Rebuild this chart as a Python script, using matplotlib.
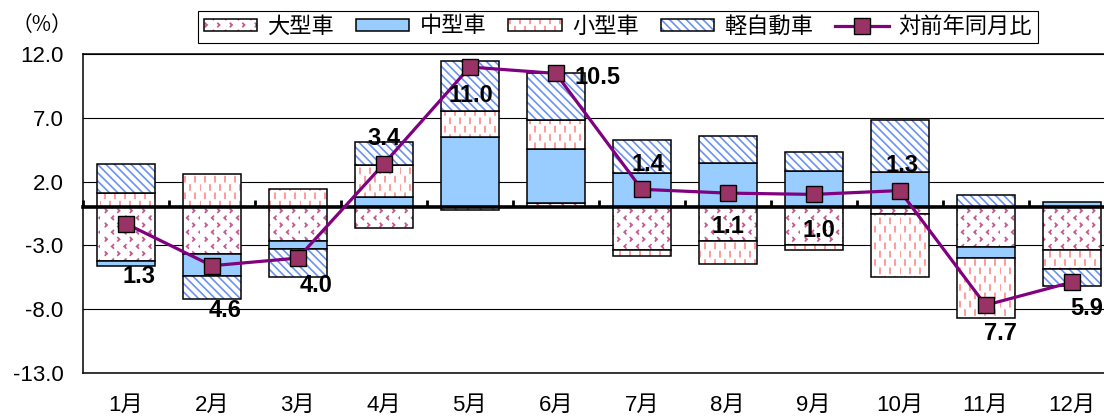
import numpy as np
import matplotlib
matplotlib.use('Agg')
import matplotlib.pyplot as plt
import matplotlib.hatch as mhatch
from matplotlib.path import Path
from matplotlib.patches import Patch
from matplotlib.lines import Line2D
from matplotlib.legend_handler import HandlerTuple

# contributions by vehicle class (percentage points) and total year-on-year change
months = ['1月', '2月', '3月', '4月', '5月', '6月', '7月', '8月', '9月', '10月', '11月', '12月']
large = [-4.25, -3.71, -2.66, -1.65, -0.20, 0.30, -3.37, -2.63, -2.98, -0.54, -3.16, -3.37]
medium = [-0.34, -1.73, -0.61, 0.81, 5.50, 4.30, 2.71, 3.45, 2.84, 2.76, -0.85, 0.38]
small = [1.13, 2.63, 1.44, 2.51, 2.06, 2.27, -0.48, -1.80, -0.39, -4.95, -4.66, -1.51]
kei = [2.24, -1.77, -2.19, 1.78, 3.88, 3.67, 2.57, 2.15, 1.51, 4.05, 0.94, -1.32]
yoy = [-1.3, -4.6, -4.0, 3.4, 11.0, 10.5, 1.4, 1.1, 1.0, 1.3, -7.7, -5.9]
series_names = ['大型車', '中型車', '小型車', '軽自動車']
line_name = '対前年同月比'
yticks = [12.0, 7.0, 2.0, -3.0, -8.0, -13.0]

# label offsets from the markers, in pixels (right, down)
label_off = [(13, 53), (13, 45), (18, 27), (0, -25), (1, 28), (42, 4),
             (6, -25), (0, 33), (5, 36), (2, -25), (15, 28), (15, 26)]


# excel-like fill patterns: short staggered dashes ('d') and small chevrons ('k')
class DashHatch(mhatch.HatchPatternBase):
    def __init__(self, hatch, density):
        n = hatch.count('d')
        self.cols = 10 * n
        self.rows = 12 * n
        self.num_vertices = self.cols * self.rows * 2

    def set_vertices_and_codes(self, vertices, codes):
        i = 0
        for r in range(self.rows):
            y = (r + 0.5) / self.rows
            for c in range(self.cols):
                xx = ((c + 0.5 + 0.5 * (r % 2)) / self.cols) % 1.0
                vertices[i] = (xx, y - 0.025)
                vertices[i + 1] = (xx, y + 0.025)
                codes[i] = Path.MOVETO
                codes[i + 1] = Path.LINETO
                i += 2


class ChevronHatch(mhatch.HatchPatternBase):
    def __init__(self, hatch, density):
        n = hatch.count('k')
        self.cols = 8 * n
        self.rows = 14 * n
        self.num_vertices = self.cols * self.rows * 3

    def set_vertices_and_codes(self, vertices, codes):
        i = 0
        for r in range(self.rows):
            y = (r + 0.5) / self.rows
            d = 1 if r % 2 == 0 else -1
            for c in range(self.cols):
                xx = (c + 0.5 + 0.5 * (r % 2)) / self.cols
                vertices[i] = (xx - d * 0.009, y + 0.017)
                vertices[i + 1] = (xx + d * 0.009, y)
                vertices[i + 2] = (xx - d * 0.009, y - 0.017)
                codes[i] = Path.MOVETO
                codes[i + 1] = Path.LINETO
                codes[i + 2] = Path.LINETO
                i += 3


mhatch._hatch_types.append(DashHatch)
mhatch._hatch_types.append(ChevronHatch)
mhatch._validate_hatch_pattern = lambda hatch: None

plt.rcParams['font.family'] = ['Liberation Sans', 'Noto Sans CJK JP']
plt.rcParams['axes.unicode_minus'] = False
plt.rcParams['hatch.linewidth'] = 1.2

fig = plt.figure(figsize=(11.04, 4.19), dpi=100)
ax = fig.add_axes([83 / 1104, 1 - 372.7 / 419, 1031.5 / 1104, 318.4 / 419])

styles = [('white', '#C45A92', 'k'),
          ('#99CCFF', None, None),
          ('white', '#FF8A8A', 'd'),
          ('white', '#6A92F2', '\\' * 4)]

x = np.arange(len(months))
w = 0.675
pos_base = np.zeros(len(months))
neg_base = np.zeros(len(months))
for vals, (fc, hc, hatch) in zip([large, medium, small, kei], styles):
    vals = np.array(vals)
    bottom = np.where(vals >= 0, pos_base, neg_base)
    if hatch:
        ax.bar(x, vals, w, bottom=bottom, color=fc, edgecolor=hc, hatch=hatch, lw=0, zorder=2)
    else:
        ax.bar(x, vals, w, bottom=bottom, color=fc, lw=0, zorder=2)
    ax.bar(x, vals, w, bottom=bottom, fill=False, edgecolor='black', lw=1.1, zorder=2)
    pos_base += np.where(vals >= 0, vals, 0)
    neg_base += np.where(vals < 0, vals, 0)

ax.plot(x, yoy, color='#800080', lw=2.3, marker='s', ms=12, mfc='#993366',
        mec='black', mew=1, zorder=4)

for i, v in enumerate(yoy):
    dx, dy = label_off[i]
    ax.annotate(f'{abs(v):.1f}', (x[i], v), xytext=(dx * 0.72, -dy * 0.72),
                textcoords='offset points', ha='center', va='center',
                fontsize=17, fontweight='bold', zorder=5)

ax.set_xlim(-0.5, 11.5)
ax.set_ylim(-13, 12)
ax.set_yticks(yticks)
ax.yaxis.set_major_formatter('{x:.1f}')
ax.tick_params(axis='y', length=0, pad=14, labelsize=16)
ax.set_xticks(x, months)
ax.tick_params(axis='x', length=0, pad=16, labelsize=16)
ax.grid(axis='y', color='black', lw=0.8)
ax.set_axisbelow(True)
for s in ax.spines.values():
    s.set_linewidth(1.1)

# zero line with category separators
zero_pos = (0 - (-13)) / (12 - (-13))
sec = ax.secondary_xaxis(zero_pos)
sec.set_xticks(np.arange(-0.5, 12, 1.0))
sec.tick_params(axis='x', direction='out', length=5, width=2, labeltop=False, labelbottom=False)
for s in sec.spines.values():
    s.set_linewidth(2.6)
sec.set_zorder(3)

handles = []
for fc, hc, hatch in styles:
    if hatch:
        handles.append((Patch(facecolor=fc, edgecolor=hc, hatch=hatch, lw=0),
                        Patch(fill=False, edgecolor='black', lw=1.1)))
    else:
        handles.append(Patch(facecolor=fc, edgecolor='black', lw=1.1))
handles.append(Line2D([], [], color='#800080', lw=2.3, marker='s', ms=11,
                      mfc='#993366', mec='black', mew=1))
leg = fig.legend(handles, series_names + [line_name], ncol=5, loc='center',
                 bbox_to_anchor=(618 / 1104, 1 - 27 / 419), fontsize=16,
                 frameon=True, fancybox=False, framealpha=1, edgecolor='black',
                 handlelength=2.4, handleheight=0.45, handletextpad=0.45,
                 columnspacing=1.0, borderpad=0.25,
                 handler_map={tuple: HandlerTuple(ndivide=1, pad=0)})
leg.get_frame().set_linewidth(0.8)

fig.text(42 / 1104, 1 - 25 / 419, '（%）', ha='center', va='center', fontsize=15,
         family=['Noto Sans CJK JP'])

fig.savefig('out.png', dpi=100)
